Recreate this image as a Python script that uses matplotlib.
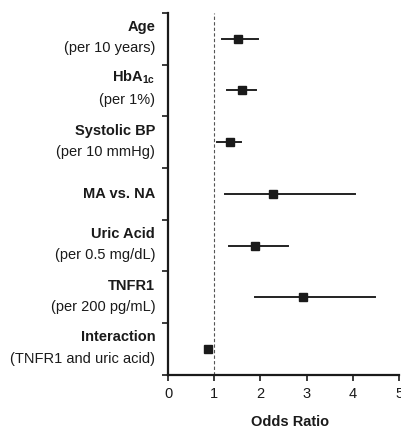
import matplotlib.pyplot as plt
import matplotlib.transforms as mtransforms

plt.rcParams['font.family'] = ['Liberation Sans', 'DejaVu Sans']
plt.rcParams['mathtext.fontset'] = 'custom'
plt.rcParams['mathtext.rm'] = 'Liberation Sans'

# datos
nombres = ["Age", "HbA$_{\\mathregular{1c}}$", "Systolic BP", "MA vs. NA",
           "Uric Acid", "TNFR1", "Interaction"]
unidades = ["(per 10 years)", "(per 1%)", "(per 10 mmHg)", "",
            "(per 0.5 mg/dL)", "(per 200 pg/mL)", "(TNFR1 and uric acid)"]
odds = [1.52, 1.60, 1.34, 2.28, 1.89, 2.93, 0.87]
ic_bajo = [1.17, 1.28, 1.06, 1.24, 1.31, 1.89, 0.85]
ic_alto = [1.95, 1.91, 1.58, 4.04, 2.60, 4.47, 0.90]
xticks = [0, 1, 2, 3, 4, 5]

fig = plt.figure(figsize=(4.02, 4.28), dpi=100)
ax = fig.add_axes([0.418, 0.124, 0.575, 0.846])

pos = [i + 0.5 for i in range(len(nombres))]
for y, o, lo, hi in zip(pos, odds, ic_bajo, ic_alto):
    ax.plot([lo, hi], [y, y], color='#222222', lw=1.4, zorder=2)
ax.plot(odds, pos, 's', color='#1a1a1a', markersize=5.5, zorder=3)

ax.axvline(1, color='#555555', lw=0.8, ls=(0, (3, 2)), zorder=1)

ax.set_xlim(0, 5)
ax.set_ylim(len(nombres), 0)
ax.set_xticks(xticks)
ax.set_yticks(range(len(nombres) + 1))
ax.set_yticklabels([])
ax.tick_params(axis='both', direction='out', length=4, width=1.2, labelsize=10.5,
               colors='#1a1a1a')
ax.tick_params(axis='x', pad=5)
for lado in ['top', 'right']:
    ax.spines[lado].set_visible(False)
for lado in ['left', 'bottom']:
    ax.spines[lado].set_linewidth(1.6)
    ax.spines[lado].set_color('#1a1a1a')

trans = mtransforms.blended_transform_factory(fig.transFigure, ax.transData)
for y, n, u in zip(pos, nombres, unidades):
    if u:
        ax.text(0.386, y - 0.09, n, transform=trans, ha='right', va='bottom',
                fontsize=10.5, fontweight='bold', color='#1a1a1a')
        ax.text(0.386, y + 0.05, u, transform=trans, ha='right', va='top',
                fontsize=10.5, color='#1a1a1a')
    else:
        ax.text(0.386, y, n, transform=trans, ha='right', va='center',
                fontsize=10.5, fontweight='bold', color='#1a1a1a')

ax.set_xlabel("Odds Ratio", fontsize=10.5, fontweight='bold', color='#1a1a1a')
ax.xaxis.set_label_coords(0.528, -0.111)
ax.xaxis.label.set_va('top')

fig.savefig("out.png", dpi=100)
